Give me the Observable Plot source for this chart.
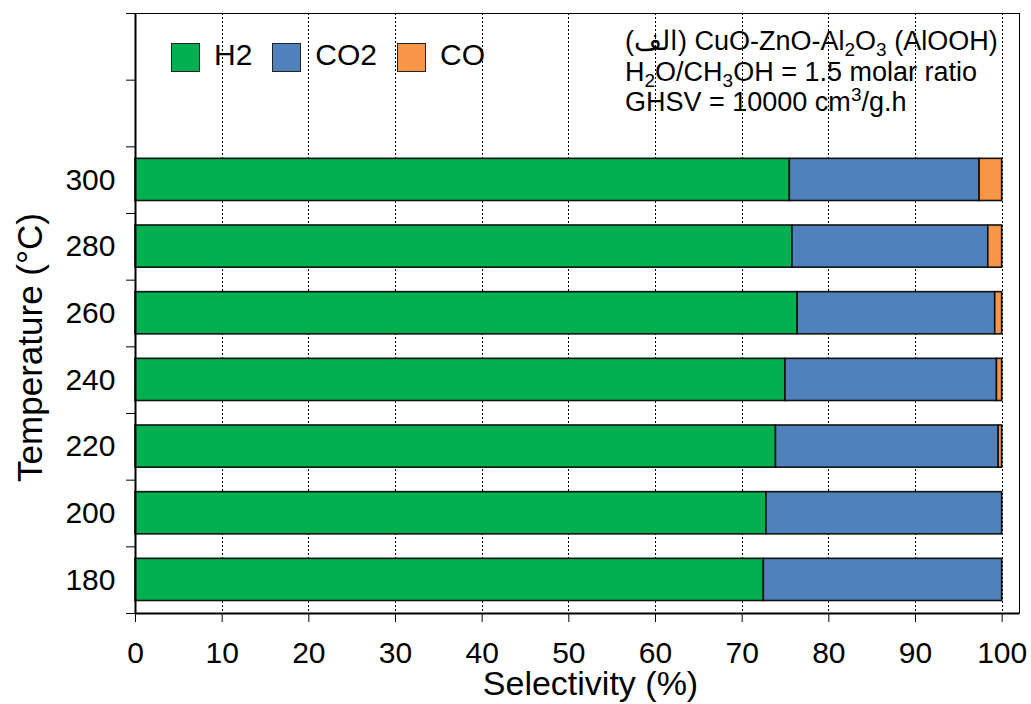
<!DOCTYPE html>
<html><head><meta charset="utf-8">
<script src="https://cdn.jsdelivr.net/npm/d3@7"></script>
<script src="https://cdn.jsdelivr.net/npm/@observablehq/plot@0.6"></script>
<style>
body{margin:0;background:#fff;font-family:"Liberation Sans",Arial,sans-serif;}
#wrap{position:relative;width:1031px;height:704px;}
#wrap svg{position:absolute;left:0;top:0;}
.legend{position:absolute;left:171px;top:42px;display:flex;align-items:center;font-size:30px;line-height:30px;color:#000;}
.sw{width:27px;height:27px;border:1.5px solid #222;margin-right:14px;}
.lab{position:relative;top:-2px;margin-right:20px;}
.note{position:absolute;left:625px;top:26px;font-size:27px;line-height:30.5px;color:#000;white-space:nowrap;}
.sb{font-size:19px;vertical-align:-6px;line-height:0;}
.sp{font-size:19px;vertical-align:10px;line-height:0;}
</style></head><body><div id="wrap"></div>
<script>
const temperatures = [180, 200, 220, 240, 260, 280, 300];
const gases = ["H2", "CO2", "CO"];
const h2Values  = [72.5, 72.8, 73.9, 75.0, 76.4, 75.8, 75.5];
const co2Values = [27.5, 27.2, 25.7, 24.4, 22.8, 22.6, 21.9];
const coValues  = [0, 0, 0.4, 0.6, 0.8, 1.6, 2.6];
const colors = ["#00B050", "#4F81BD", "#F79646"];
const xTicks = [0, 10, 20, 30, 40, 50, 60, 70, 80, 90, 100];
const yBoundaries = [170, 190, 210, 230, 250, 270, 290, 310, 330, 350];

const rows = [];
temperatures.forEach((t, i) => {
  let acc = 0;
  [h2Values[i], co2Values[i], coValues[i]].forEach((v, j) => {
    if (v > 0) rows.push({temp: t, gas: gases[j], x1: acc, x2: acc + v});
    acc += v;
  });
});

const plot = Plot.plot({
  width: 1031, height: 704,
  marginLeft: 135, marginRight: 12, marginTop: 13, marginBottom: 91,
  style: {fontFamily: "Liberation Sans, Arial, sans-serif", color: "#000", background: "#fff", overflow: "visible"},
  x: {domain: [0, 102]},
  y: {domain: [170, 350]},
  color: {domain: gases, range: colors},
  marks: [
    Plot.ruleX(xTicks.slice(1), {stroke: "#000", strokeDasharray: "2,2", strokeWidth: 1, shapeRendering: "crispEdges"}),
    Plot.rect(rows, {x1: "x1", x2: "x2", y1: d => d.temp - 10, y2: d => d.temp + 10,
      insetTop: 12, insetBottom: 12.5, fill: "gas", stroke: "#111", strokeWidth: 1.6}),
    Plot.frame({stroke: "#000", strokeWidth: 1}),
    Plot.ruleX([0], {stroke: "#000", strokeWidth: 2}),
    Plot.ruleY([170], {stroke: "#000", strokeWidth: 2}),
    Plot.axisX({ticks: xTicks, tickSize: 9, tickPadding: 19, fontSize: 30, label: null, tickFormat: d => String(d)}),
    Plot.axisY({ticks: yBoundaries, tickSize: 9, tickFormat: () => "", label: null}),
    Plot.axisY({ticks: temperatures, tickSize: 0, tickPadding: 20, fontSize: 30, label: null, tickFormat: d => String(d)}),
    Plot.text(["Temperature (°C)"], {text: d => d, frameAnchor: "left", textAnchor: "middle", lineAnchor: "middle", rotate: -90, dx: -105, dy: 34, fontSize: 35}),
    Plot.text(["Selectivity (%)"], {text: d => d, frameAnchor: "bottom", textAnchor: "middle", lineAnchor: "middle", dx: 13, dy: 71, fontSize: 34})
  ]
});
const wrap = document.getElementById("wrap");
wrap.appendChild(plot);

const legend = document.createElement("div");
legend.className = "legend";
gases.forEach((g, i) => {
  const sw = document.createElement("div");
  sw.className = "sw"; sw.style.background = colors[i];
  const lab = document.createElement("span");
  lab.className = "lab"; lab.textContent = g;
  legend.appendChild(sw); legend.appendChild(lab);
});
wrap.appendChild(legend);

const note = document.createElement("div");
note.className = "note";
note.innerHTML = '<span dir="rtl">(الف)</span> CuO-ZnO-Al<span class="sb">2</span>O<span class="sb">3</span> (AlOOH)<br>' +
  'H<span class="sb">2</span>O/CH<span class="sb">3</span>OH = 1.5 molar ratio<br>' +
  'GHSV = 10000 cm<span class="sp">3</span>/g.h';
wrap.appendChild(note);
</script></body></html>
